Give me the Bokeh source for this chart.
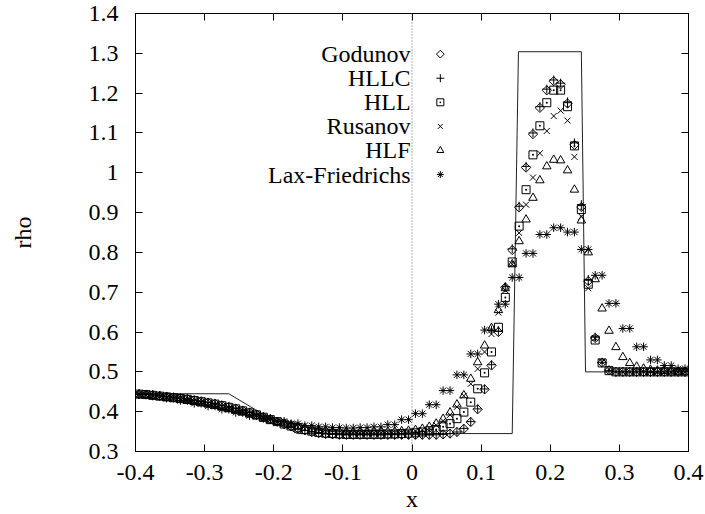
import numpy as np
from bokeh.plotting import figure
from bokeh.models import Range1d, FixedTicker, LinearAxis, Span, Label
from bokeh.embed import file_html
from bokeh.resources import INLINE

# ---------------- data ----------------
x = [-0.395, -0.385, -0.375, -0.365, -0.355, -0.345, -0.335, -0.325, -0.315, -0.305,
     -0.295, -0.285, -0.275, -0.265, -0.255, -0.245, -0.235, -0.225, -0.215, -0.205,
     -0.195, -0.185, -0.175, -0.165, -0.155, -0.145, -0.135, -0.125, -0.115, -0.105,
     -0.095, -0.085, -0.075, -0.065, -0.055, -0.045, -0.035, -0.025, -0.015, -0.005,
     0.005, 0.015, 0.025, 0.035, 0.045, 0.055, 0.065, 0.075, 0.085, 0.095,
     0.105, 0.115, 0.125, 0.135, 0.145, 0.155, 0.165, 0.175, 0.185, 0.195,
     0.205, 0.215, 0.225, 0.235, 0.245, 0.255, 0.265, 0.275, 0.285, 0.295,
     0.305, 0.315, 0.325, 0.335, 0.345, 0.355, 0.365, 0.375, 0.385, 0.395]

godunov = [0.444, 0.443, 0.442, 0.440, 0.438, 0.436, 0.434, 0.432, 0.429, 0.426,
           0.423, 0.420, 0.416, 0.412, 0.408, 0.403, 0.398, 0.393, 0.387, 0.381,
           0.375, 0.369, 0.363, 0.358, 0.353, 0.349, 0.346, 0.344, 0.343, 0.342,
           0.342, 0.342, 0.342, 0.342, 0.342, 0.342, 0.342, 0.342, 0.342, 0.342,
           0.342, 0.342, 0.342, 0.342, 0.343, 0.345, 0.349, 0.357, 0.374, 0.406,
           0.456, 0.516, 0.600, 0.712, 0.806, 0.913, 1.013, 1.097, 1.163, 1.207,
           1.230, 1.222, 1.174, 1.070, 0.914, 0.728, 0.585, 0.523, 0.504, 0.500,
           0.500, 0.500, 0.500, 0.500, 0.500, 0.500, 0.500, 0.500, 0.500, 0.500]

hllc = [0.444, 0.443, 0.442, 0.440, 0.438, 0.436, 0.434, 0.432, 0.429, 0.426,
        0.423, 0.420, 0.416, 0.412, 0.408, 0.403, 0.398, 0.393, 0.387, 0.381,
        0.375, 0.369, 0.363, 0.358, 0.353, 0.349, 0.346, 0.344, 0.343, 0.342,
        0.342, 0.342, 0.342, 0.342, 0.342, 0.342, 0.342, 0.342, 0.342, 0.342,
        0.342, 0.342, 0.342, 0.342, 0.343, 0.345, 0.349, 0.358, 0.375, 0.407,
        0.457, 0.518, 0.602, 0.714, 0.809, 0.916, 1.016, 1.100, 1.166, 1.210,
        1.233, 1.225, 1.178, 1.075, 0.920, 0.732, 0.587, 0.524, 0.504, 0.500,
        0.500, 0.500, 0.500, 0.500, 0.500, 0.500, 0.500, 0.500, 0.500, 0.500]

hll = [0.444, 0.443, 0.441, 0.439, 0.437, 0.435, 0.433, 0.431, 0.428, 0.425,
       0.422, 0.419, 0.415, 0.411, 0.407, 0.402, 0.397, 0.392, 0.386, 0.380,
       0.375, 0.369, 0.364, 0.359, 0.355, 0.351, 0.348, 0.346, 0.345, 0.344,
       0.343, 0.343, 0.343, 0.343, 0.343, 0.343, 0.344, 0.344, 0.345, 0.346,
       0.347, 0.349, 0.352, 0.355, 0.362, 0.370, 0.3825, 0.399, 0.424, 0.4575,
       0.4975, 0.550, 0.612, 0.687, 0.776, 0.866, 0.9575, 1.045, 1.118, 1.176,
       1.2075, 1.2075, 1.166, 1.0675, 0.9075, 0.720, 0.580, 0.5225, 0.503, 0.500,
       0.500, 0.500, 0.500, 0.500, 0.500, 0.500, 0.500, 0.500, 0.500, 0.500]

rusanov = [0.444, 0.442, 0.440, 0.438, 0.436, 0.434, 0.432, 0.429, 0.426, 0.423,
           0.420, 0.417, 0.413, 0.409, 0.405, 0.401, 0.396, 0.391, 0.386, 0.380,
           0.375, 0.370, 0.365, 0.361, 0.357, 0.354, 0.351, 0.349, 0.348, 0.347,
           0.346, 0.346, 0.346, 0.346, 0.346, 0.346, 0.347, 0.347, 0.348, 0.349,
           0.351, 0.354, 0.359, 0.366, 0.377, 0.392, 0.412, 0.440, 0.470, 0.5075,
           0.550, 0.595, 0.649, 0.705, 0.770, 0.849, 0.920, 0.988, 1.049, 1.105,
           1.1425, 1.156, 1.131, 1.040, 0.890, 0.710, 0.585, 0.525, 0.506, 0.501,
           0.500, 0.500, 0.500, 0.500, 0.500, 0.500, 0.500, 0.500, 0.500, 0.500]

hlf = [0.443, 0.441, 0.439, 0.437, 0.435, 0.433, 0.430, 0.427, 0.424, 0.421,
       0.418, 0.414, 0.410, 0.406, 0.402, 0.398, 0.393, 0.388, 0.383, 0.378,
       0.374, 0.370, 0.366, 0.362, 0.359, 0.356, 0.354, 0.352, 0.351, 0.350,
       0.349, 0.349, 0.349, 0.349, 0.349, 0.349, 0.350, 0.350, 0.351, 0.352,
       0.354, 0.357, 0.362, 0.370, 0.382, 0.398, 0.418, 0.441, 0.4825, 0.524,
       0.566, 0.610, 0.655, 0.710, 0.770, 0.828, 0.8825, 0.937, 0.981, 1.016,
       1.0325, 1.031, 1.006, 0.9575, 0.880, 0.800, 0.7325, 0.659, 0.603, 0.562,
       0.537, 0.522, 0.513, 0.508, 0.505, 0.503, 0.502, 0.501, 0.500, 0.500]

lax_friedrichs = [0.443, 0.443, 0.439, 0.439, 0.434, 0.434, 0.428, 0.428, 0.421, 0.421,
                  0.414, 0.414, 0.406, 0.406, 0.398, 0.398, 0.390, 0.390, 0.383, 0.383,
                  0.376, 0.376, 0.370, 0.370, 0.365, 0.365, 0.362, 0.362, 0.360, 0.360,
                  0.359, 0.359, 0.360, 0.360, 0.362, 0.362, 0.3675, 0.3675, 0.380, 0.380,
                  0.395, 0.395, 0.4175, 0.4175, 0.453, 0.453, 0.4925, 0.4925, 0.545, 0.545,
                  0.605, 0.605, 0.670, 0.670, 0.737, 0.737, 0.7975, 0.7975, 0.845, 0.845,
                  0.862, 0.862, 0.851, 0.851, 0.8075, 0.8075, 0.7425, 0.7425, 0.672, 0.672,
                  0.609, 0.609, 0.563, 0.563, 0.530, 0.530, 0.516, 0.516, 0.508, 0.508]

exact_x = [-0.4, -0.265, -0.215, -0.166, 0.145, 0.154, 0.245, 0.251, 0.4]
exact_rho = [0.445, 0.445, 0.393, 0.345, 0.345, 1.304, 1.304, 0.500, 0.500]

series_names = ["Godunov", "HLLC", "HLL", "Rusanov", "HLF", "Lax-Friedrichs"]
series_values = [godunov, hllc, hll, rusanov, hlf, lax_friedrichs]

x_ticks = [-0.4, -0.3, -0.2, -0.1, 0.0, 0.1, 0.2, 0.3, 0.4]
x_tick_labels = ["-0.4", "-0.3", "-0.2", "-0.1", "0", "0.1", "0.2", "0.3", "0.4"]
y_ticks = [0.3, 0.4, 0.5, 0.6, 0.7, 0.8, 0.9, 1.0, 1.1, 1.2, 1.3, 1.4]
y_tick_labels = ["0.3", "0.4", "0.5", "0.6", "0.7", "0.8", "0.9", "1", "1.1", "1.2", "1.3", "1.4"]

# ---------------- styles / layout ----------------
FONT = "Liberation Serif"
FS = "24px"
marker_styles = [
    dict(marker="square", angle=np.pi / 4, size=6.5, key_size=5.5),
    dict(marker="cross", angle=0.0, size=9, key_size=8),
    dict(marker="square_dot", angle=0.0, size=8, key_size=7),
    dict(marker="x", angle=0.0, size=8.5, key_size=7),
    dict(marker="triangle", angle=0.0, size=8.5, key_size=7),
    dict(marker="asterisk", angle=0.0, size=8.5, key_size=7),
]
LEG_TEXT_X = -0.002
LEG_SYM_X = 0.041
LEG_TOP = 1.298
LEG_STEP = 0.0605

p = figure(width=705, height=514, output_backend="svg", toolbar_location=None,
           x_range=Range1d(-0.4, 0.4), y_range=Range1d(0.3, 1.4),
           min_border_left=135, min_border_right=17, min_border_top=13, min_border_bottom=61)
p.background_fill_color = "white"
p.border_fill_color = "white"
p.outline_line_color = "black"
p.outline_line_width = 1
p.xgrid.visible = False
p.ygrid.visible = False

for ax, ticks, labels in ((p.xaxis[0], x_ticks, x_tick_labels), (p.yaxis[0], y_ticks, y_tick_labels)):
    ax.ticker = FixedTicker(ticks=ticks)
    ax.major_label_overrides = {t: l for t, l in zip(ticks, labels)}
    ax.major_tick_in = 7
    ax.major_tick_out = 0
    ax.minor_tick_line_color = None
    ax.axis_line_color = "black"
    ax.major_tick_line_color = "black"
    ax.major_label_text_font = FONT
    ax.major_label_text_font_size = FS
    ax.major_label_text_color = "black"
    ax.axis_label_text_font = FONT
    ax.axis_label_text_font_size = FS
    ax.axis_label_text_font_style = "normal"
    ax.axis_label_text_color = "black"

p.xaxis.axis_label = "x"
p.xaxis.major_label_standoff = 13
p.xaxis.axis_label_standoff = 3
p.yaxis.axis_label = "rho"
p.yaxis.major_label_standoff = 17
p.yaxis.axis_label_standoff = 50

# mirror ticks on top and right
for place, ticks in (("above", x_ticks), ("right", y_ticks)):
    ax = LinearAxis(ticker=FixedTicker(ticks=ticks),
                    major_label_overrides={t: "" for t in ticks},
                    major_label_text_font_size="0px", major_label_standoff=0,
                    major_tick_in=7, major_tick_out=0,
                    minor_tick_line_color=None, axis_line_color="black",
                    major_tick_line_color="black")
    p.add_layout(ax, place)

# zero axis
p.add_layout(Span(location=0, dimension="height", line_color="#666666",
                  line_dash="1 2", line_width=1))

# exact solution
p.line(exact_x, exact_rho, line_color="#222222", line_width=1)

# numerical solutions
for vals, st in zip(series_values, marker_styles):
    p.scatter(x, vals, marker=st["marker"], size=st["size"], angle=st["angle"],
              line_color="black", fill_color=None, line_width=1)

# key
for i, (name, st) in enumerate(zip(series_names, marker_styles)):
    yy = LEG_TOP - i * LEG_STEP
    p.add_layout(Label(x=LEG_TEXT_X, y=yy, text=name, text_align="right",
                       text_baseline="middle", text_font=FONT, text_font_size=FS,
                       text_color="black"))
    p.scatter([LEG_SYM_X], [yy], marker=st["marker"], size=st["key_size"], angle=st["angle"],
              line_color="black", fill_color=None, line_width=1)

open("out.html", "w").write(file_html(p, INLINE))
